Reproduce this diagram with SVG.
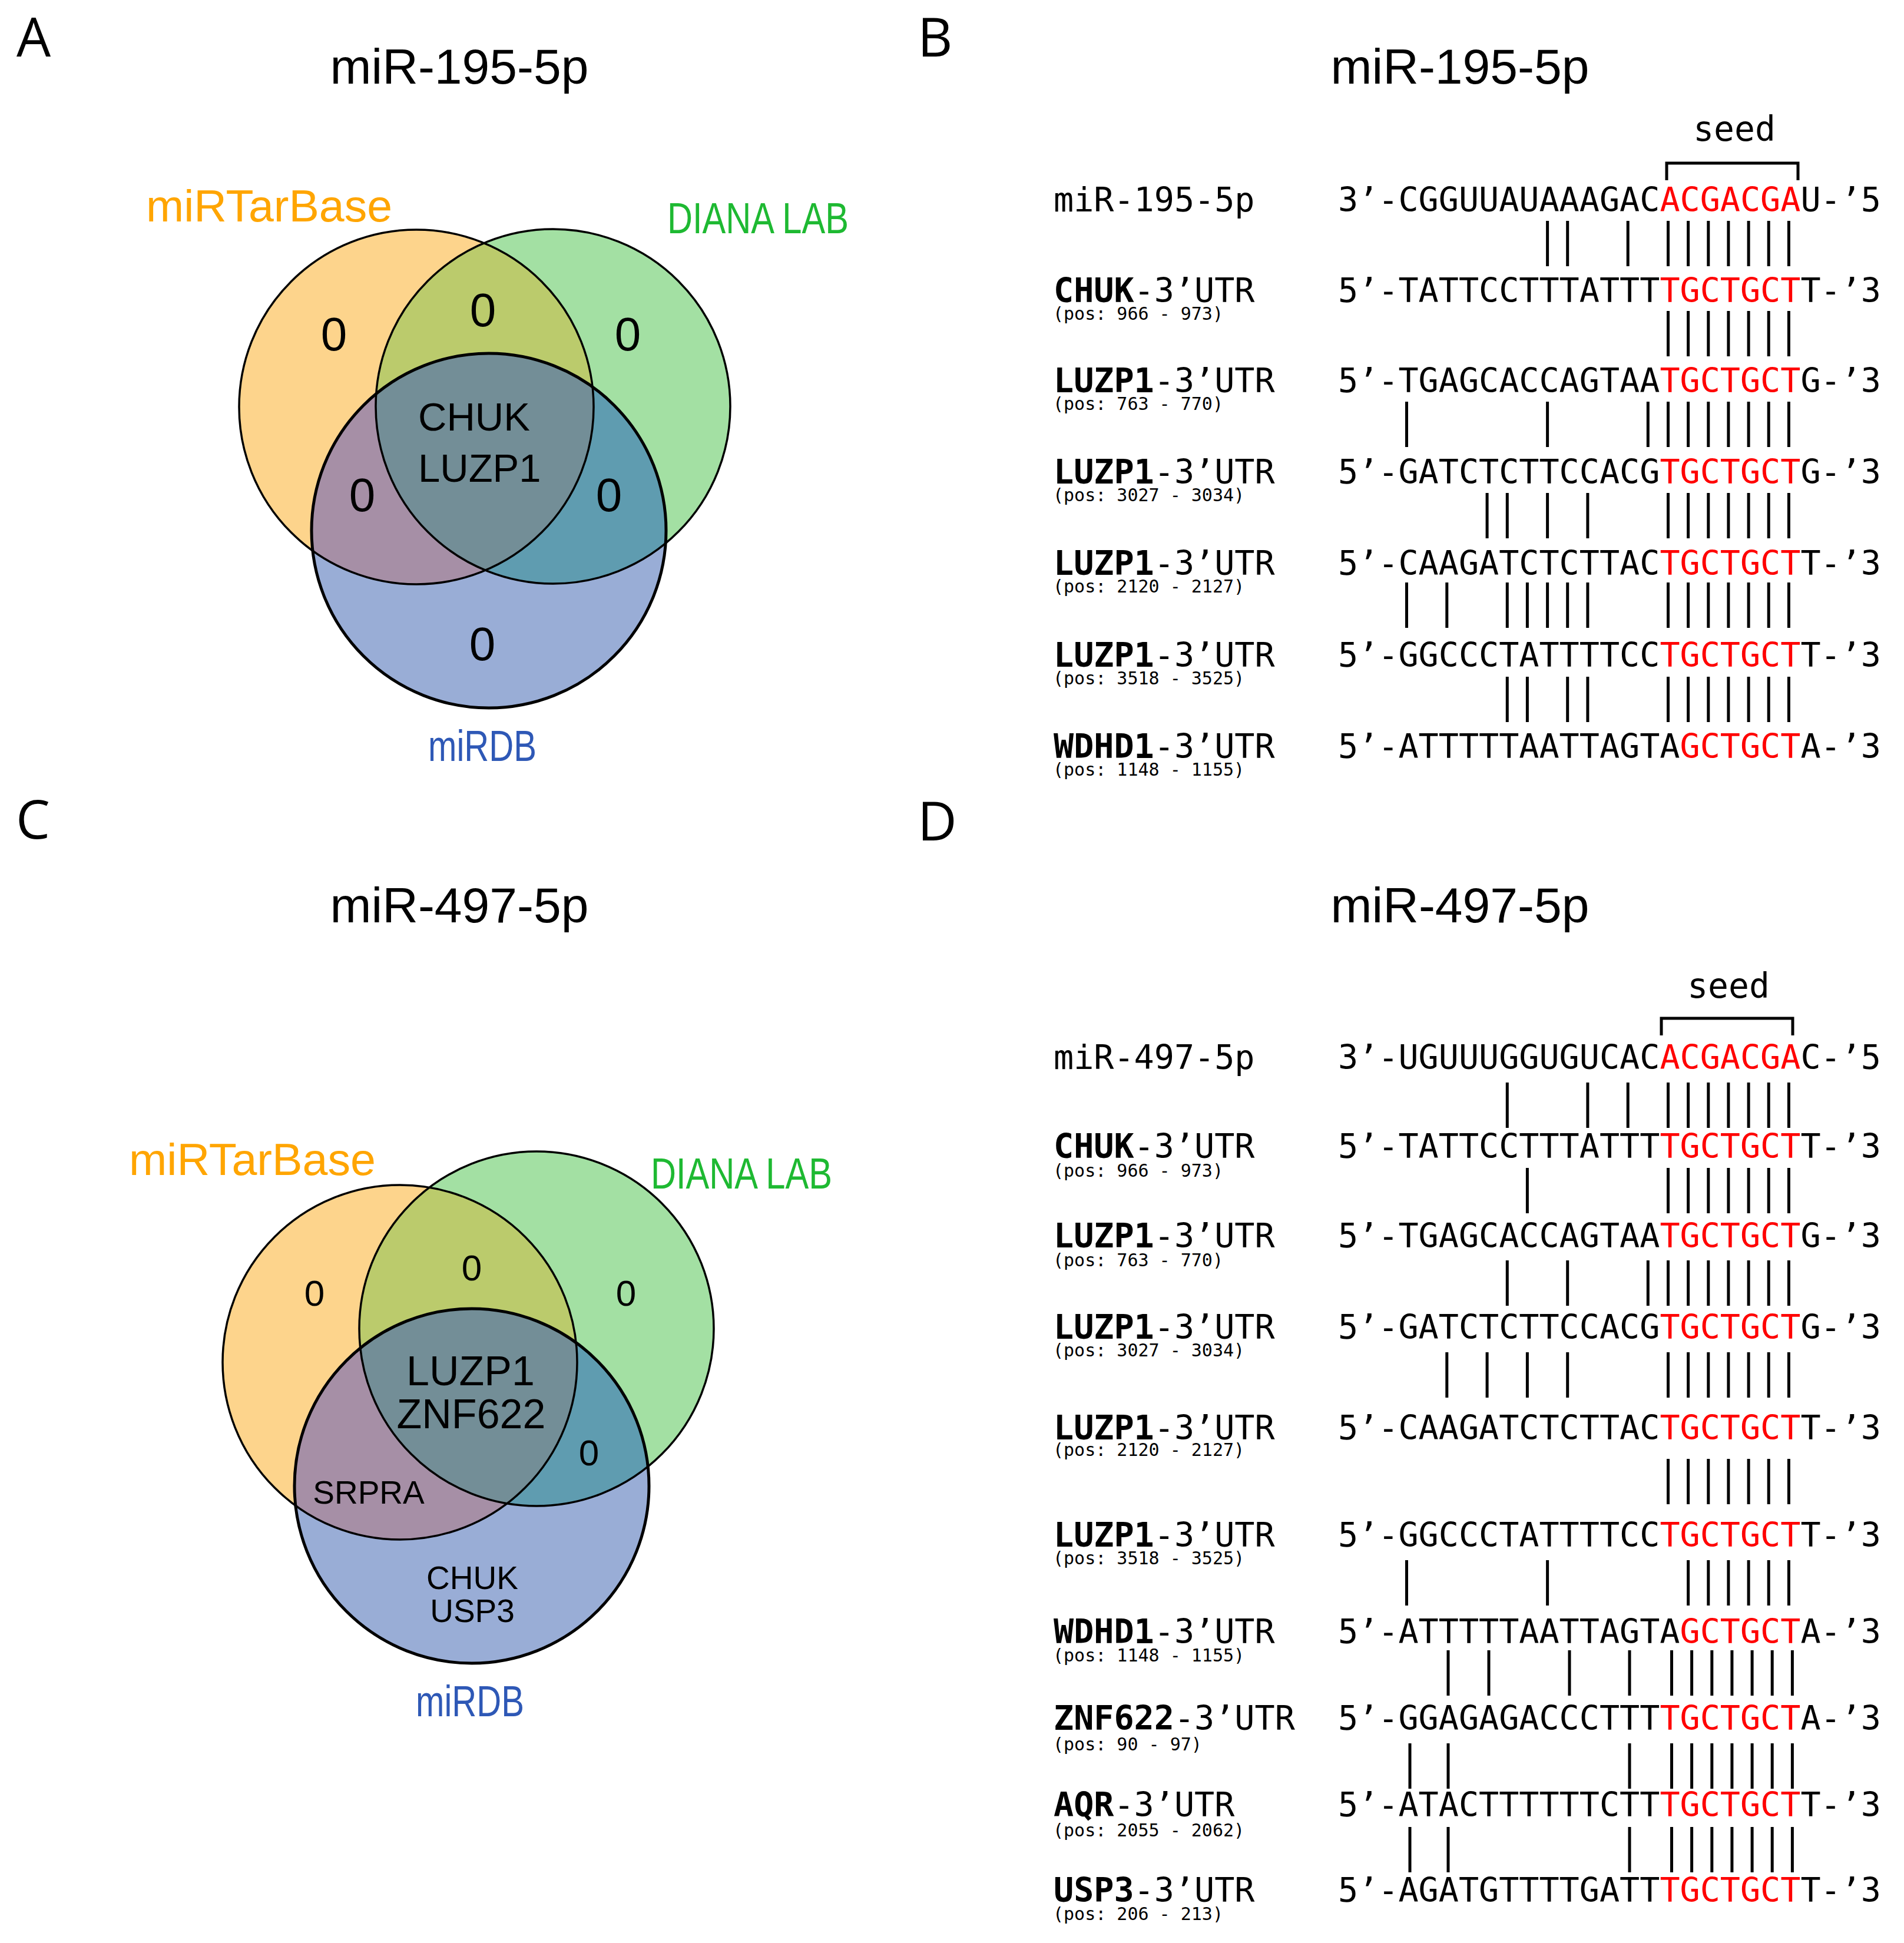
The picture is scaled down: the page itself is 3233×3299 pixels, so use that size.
<svg xmlns="http://www.w3.org/2000/svg" xmlns:xlink="http://www.w3.org/1999/xlink" width="3233" height="3299" viewBox="0 0 3233 3299">
<style>
.lbl{font-family:"Open Sans","DejaVu Sans",sans-serif;font-size:92px;fill:#000}
.ttl{font-family:"Liberation Sans",Arial,sans-serif;font-size:84px;text-anchor:middle;fill:#000}
.vn{font-family:"Liberation Sans",Arial,sans-serif;text-anchor:middle;fill:#000}
.n80{font-size:80px}
.n62{font-size:62px}
.g67{font-size:67px;text-anchor:start}
.g70{font-size:70px}
.g55{font-size:55px}
.src{font-family:"Liberation Sans",Arial,sans-serif;font-size:74px}
.tb{fill:#FFA500;font-size:76px}
.dl{fill:#1EB932}
.db{fill:#2E58B6}
.seq{font-family:"DejaVu Sans Mono",monospace;font-size:56.72px;fill:#000}
.pos{font-family:"DejaVu Sans Mono",monospace;font-size:30px;fill:#000}
.seedt{font-family:"DejaVu Sans Mono",monospace;font-size:58px;text-anchor:middle;fill:#000}
.r{fill:#FF0000}
.b{font-weight:bold}
.bars{stroke:#000;stroke-width:5;fill:none}
.ring{fill:none;stroke:#000;stroke-width:3.5}
.ringB{fill:none;stroke:#000;stroke-width:5}
</style>
<defs>
<clipPath id="cAO"><circle cx="707" cy="691" r="301"/></clipPath>
<clipPath id="cAG"><circle cx="939" cy="690" r="301"/></clipPath>
<clipPath id="cCO"><circle cx="679" cy="2313" r="301"/></clipPath>
<clipPath id="cCG"><circle cx="911" cy="2256" r="301"/></clipPath>
<path id="s7" d="M2832.5 0V77M2866.6 0V77M2900.8 0V77M2934.9 0V77M2969.1 0V77M3003.2 0V77M3037.4 0V77"/>
</defs>
<rect width="3233" height="3299" fill="#fff"/>

<g id="panel-labels">
<text class="lbl" x="28" y="96">A</text>
<text class="lbl" x="1558" y="96">B</text>
<text class="lbl" x="27" y="1424">C</text>
<text class="lbl" x="1558" y="1427">D</text>
</g>

<g id="titles">
<text class="ttl" x="780" y="142">miR-195-5p</text>
<text class="ttl" x="2479" y="142">miR-195-5p</text>
<text class="ttl" x="780" y="1566">miR-497-5p</text>
<text class="ttl" x="2479" y="1566">miR-497-5p</text>
</g>

<g id="venn-A">
<circle cx="707" cy="691" r="301" fill="#FDD48C"/>
<circle cx="939" cy="690" r="301" fill="#A3E0A3"/>
<circle cx="830" cy="901" r="301" fill="#99ADD6"/>
<circle cx="939" cy="690" r="301" fill="#BBCB6C" clip-path="url(#cAO)"/>
<circle cx="830" cy="901" r="301" fill="#A68FA6" clip-path="url(#cAO)"/>
<circle cx="830" cy="901" r="301" fill="#5F9CB0" clip-path="url(#cAG)"/>
<g clip-path="url(#cAO)"><circle cx="830" cy="901" r="301" fill="#738E97" clip-path="url(#cAG)"/></g>
<circle class="ring" cx="707" cy="691" r="301"/>
<circle class="ring" cx="939" cy="690" r="301"/>
<circle class="ringB" cx="830" cy="901" r="301"/>
<text class="src tb" x="248" y="376" textLength="418" lengthAdjust="spacingAndGlyphs">miRTarBase</text>
<text class="src dl" x="1133" y="396" font-size="72" textLength="308" lengthAdjust="spacingAndGlyphs">DIANA LAB</text>
<text class="src db" x="727" y="1292" font-size="72" textLength="184" lengthAdjust="spacingAndGlyphs">miRDB</text>
<text class="vn n80" x="567" y="595">0</text>
<text class="vn n80" x="820" y="554">0</text>
<text class="vn n80" x="1066" y="595">0</text>
<text class="vn n80" x="615" y="868">0</text>
<text class="vn n80" x="1034" y="868">0</text>
<text class="vn n80" x="819" y="1121">0</text>
<text class="vn g67" x="710" y="731">CHUK</text>
<text class="vn g67" x="710" y="818">LUZP1</text>
</g>

<g id="venn-C">
<circle cx="679" cy="2313" r="301" fill="#FDD48C"/>
<circle cx="911" cy="2256" r="301" fill="#A3E0A3"/>
<circle cx="801" cy="2523" r="301" fill="#99ADD6"/>
<circle cx="911" cy="2256" r="301" fill="#BBCB6C" clip-path="url(#cCO)"/>
<circle cx="801" cy="2523" r="301" fill="#A68FA6" clip-path="url(#cCO)"/>
<circle cx="801" cy="2523" r="301" fill="#5F9CB0" clip-path="url(#cCG)"/>
<g clip-path="url(#cCO)"><circle cx="801" cy="2523" r="301" fill="#738E97" clip-path="url(#cCG)"/></g>
<circle class="ring" cx="679" cy="2313" r="301"/>
<circle class="ring" cx="911" cy="2256" r="301"/>
<circle class="ringB" cx="801" cy="2523" r="301"/>
<text class="src tb" x="219" y="1995" textLength="419" lengthAdjust="spacingAndGlyphs">miRTarBase</text>
<text class="src dl" x="1105" y="2018" font-size="72" textLength="308" lengthAdjust="spacingAndGlyphs">DIANA LAB</text>
<text class="src db" x="706" y="2914" font-size="72" textLength="184" lengthAdjust="spacingAndGlyphs">miRDB</text>
<text class="vn n62" x="534" y="2217">0</text>
<text class="vn n62" x="801" y="2174">0</text>
<text class="vn n62" x="1063" y="2217">0</text>
<text class="vn n62" x="1000" y="2488">0</text>
<text class="vn g70" x="799" y="2352">LUZP1</text>
<text class="vn g70" x="800" y="2425">ZNF622</text>
<text class="vn g55" x="626" y="2553">SRPRA</text>
<text class="vn g55" x="802" y="2698">CHUK</text>
<text class="vn g55" x="802" y="2754">USP3</text>
</g>

<g id="alignment-B">
<text class="seedt" x="2945" y="239">seed</text>
<path class="bars" d="M2830 306V277H3053V306"/>
<g id="B-mir"><text class="seq" x="1789" y="359">miR-195-5p</text><text class="seq" x="2272" y="359">3’-CGGUUAUAAAGAC<tspan class="r">ACGACGA</tspan>U-’5</text></g>
<g id="B-chuk"><text class="seq" x="1789" y="513"><tspan class="b">CHUK</tspan>-3’UTR</text><text class="pos" x="1788" y="543">(pos: 966 - 973)</text><text class="seq" x="2272" y="513">5’-TATTCCTTTATTT<tspan class="r">TGCTGCT</tspan>T-’3</text></g>
<g id="B-luzp1-763"><text class="seq" x="1789" y="666"><tspan class="b">LUZP1</tspan>-3’UTR</text><text class="pos" x="1788" y="696">(pos: 763 - 770)</text><text class="seq" x="2272" y="666">5’-TGAGCACCAGTAA<tspan class="r">TGCTGCT</tspan>G-’3</text></g>
<g id="B-luzp1-3027"><text class="seq" x="1789" y="821"><tspan class="b">LUZP1</tspan>-3’UTR</text><text class="pos" x="1788" y="851">(pos: 3027 - 3034)</text><text class="seq" x="2272" y="821">5’-GATCTCTTCCACG<tspan class="r">TGCTGCT</tspan>G-’3</text></g>
<g id="B-luzp1-2120"><text class="seq" x="1789" y="976"><tspan class="b">LUZP1</tspan>-3’UTR</text><text class="pos" x="1788" y="1006">(pos: 2120 - 2127)</text><text class="seq" x="2272" y="976">5’-CAAGATCTCTTAC<tspan class="r">TGCTGCT</tspan>T-’3</text></g>
<g id="B-luzp1-3518"><text class="seq" x="1789" y="1132"><tspan class="b">LUZP1</tspan>-3’UTR</text><text class="pos" x="1788" y="1162">(pos: 3518 - 3525)</text><text class="seq" x="2272" y="1132">5’-GGCCCTATTTTCC<tspan class="r">TGCTGCT</tspan>T-’3</text></g>
<g id="B-wdhd1"><text class="seq" x="1789" y="1287"><tspan class="b">WDHD1</tspan>-3’UTR</text><text class="pos" x="1788" y="1317">(pos: 1148 - 1155)</text><text class="seq" x="2272" y="1287">5’-ATTTTTAATTAGTA<tspan class="r">GCTGCT</tspan>A-’3</text></g>
</g>

<g id="alignment-D">
<text class="seedt" x="2935" y="1694">seed</text>
<path class="bars" d="M2821 1758V1729H3044V1758"/>
<g id="D-mir"><text class="seq" x="1789" y="1815">miR-497-5p</text><text class="seq" x="2272" y="1815">3’-UGUUUGGUGUCAC<tspan class="r">ACGACGA</tspan>C-’5</text></g>
<g id="D-chuk"><text class="seq" x="1789" y="1966"><tspan class="b">CHUK</tspan>-3’UTR</text><text class="pos" x="1788" y="1998">(pos: 966 - 973)</text><text class="seq" x="2272" y="1966">5’-TATTCCTTTATTT<tspan class="r">TGCTGCT</tspan>T-’3</text></g>
<g id="D-luzp1-763"><text class="seq" x="1789" y="2118"><tspan class="b">LUZP1</tspan>-3’UTR</text><text class="pos" x="1788" y="2150">(pos: 763 - 770)</text><text class="seq" x="2272" y="2118">5’-TGAGCACCAGTAA<tspan class="r">TGCTGCT</tspan>G-’3</text></g>
<g id="D-luzp1-3027"><text class="seq" x="1789" y="2273"><tspan class="b">LUZP1</tspan>-3’UTR</text><text class="pos" x="1788" y="2303">(pos: 3027 - 3034)</text><text class="seq" x="2272" y="2273">5’-GATCTCTTCCACG<tspan class="r">TGCTGCT</tspan>G-’3</text></g>
<g id="D-luzp1-2120"><text class="seq" x="1789" y="2444"><tspan class="b">LUZP1</tspan>-3’UTR</text><text class="pos" x="1788" y="2472">(pos: 2120 - 2127)</text><text class="seq" x="2272" y="2444">5’-CAAGATCTCTTAC<tspan class="r">TGCTGCT</tspan>T-’3</text></g>
<g id="D-luzp1-3518"><text class="seq" x="1789" y="2626"><tspan class="b">LUZP1</tspan>-3’UTR</text><text class="pos" x="1788" y="2656">(pos: 3518 - 3525)</text><text class="seq" x="2272" y="2626">5’-GGCCCTATTTTCC<tspan class="r">TGCTGCT</tspan>T-’3</text></g>
<g id="D-wdhd1"><text class="seq" x="1789" y="2790"><tspan class="b">WDHD1</tspan>-3’UTR</text><text class="pos" x="1788" y="2821">(pos: 1148 - 1155)</text><text class="seq" x="2272" y="2790">5’-ATTTTTAATTAGTA<tspan class="r">GCTGCT</tspan>A-’3</text></g>
<g id="D-znf622"><text class="seq" x="1789" y="2937"><tspan class="b">ZNF622</tspan>-3’UTR</text><text class="pos" x="1788" y="2972">(pos: 90 - 97)</text><text class="seq" x="2272" y="2937">5’-GGAGAGACCCTTT<tspan class="r">TGCTGCT</tspan>A-’3</text></g>
<g id="D-aqr"><text class="seq" x="1789" y="3084"><tspan class="b">AQR</tspan>-3’UTR</text><text class="pos" x="1788" y="3118">(pos: 2055 - 2062)</text><text class="seq" x="2272" y="3084">5’-ATACTTTTTTCTT<tspan class="r">TGCTGCT</tspan>T-’3</text></g>
<g id="D-usp3"><text class="seq" x="1789" y="3229"><tspan class="b">USP3</tspan>-3’UTR</text><text class="pos" x="1788" y="3260">(pos: 206 - 213)</text><text class="seq" x="2272" y="3229">5’-AGATGTTTTGATT<tspan class="r">TGCTGCT</tspan>T-’3</text></g>
</g>

<g id="connectors" class="bars">
<path d="M2627.6 375V452M2661.7 375V452M2764.2 375V452"/><use xlink:href="#s7" href="#s7" y="375"/>
<use xlink:href="#s7" href="#s7" y="528"/>
<path d="M2388.5 682V759M2627.6 682V759M2798.3 682V759"/><use xlink:href="#s7" href="#s7" y="682"/>
<path d="M2525.1 837V914M2559.3 837V914M2627.6 837V914M2695.9 837V914"/><use xlink:href="#s7" href="#s7" y="837"/>
<path d="M2388.5 989V1066M2456.8 989V1066M2559.3 989V1066M2593.4 989V1066M2627.6 989V1066M2661.7 989V1066M2695.9 989V1066"/><use xlink:href="#s7" href="#s7" y="989"/>
<path d="M2559.3 1149V1226M2593.4 1149V1226M2661.7 1149V1226M2695.9 1149V1226"/><use xlink:href="#s7" href="#s7" y="1149"/>

<path d="M2559.3 1838V1915M2695.9 1838V1915M2764.2 1838V1915"/><use xlink:href="#s7" href="#s7" y="1838"/>
<path d="M2593.4 1983V2060"/><use xlink:href="#s7" href="#s7" y="1983"/>
<path d="M2559.3 2140V2217M2661.7 2140V2217M2798.3 2140V2217"/><use xlink:href="#s7" href="#s7" y="2140"/>
<path d="M2456.8 2296V2373M2525.1 2296V2373M2593.4 2296V2373M2661.7 2296V2373"/><use xlink:href="#s7" href="#s7" y="2296"/>
<use xlink:href="#s7" href="#s7" y="2477"/>
<path d="M2388.5 2649V2726M2627.6 2649V2726M2866.6 2649V2726M2900.8 2649V2726M2934.9 2649V2726M2969.1 2649V2726M3003.2 2649V2726M3037.4 2649V2726"/>
<path d="M2459 2802V2879M2528 2802V2879M2665 2802V2879M2767 2802V2879"/><use xlink:href="#s7" href="#s7" x="6" y="2802"/>
<path d="M2394 2960V3037M2459 2960V3037M2767 2960V3037"/><use xlink:href="#s7" href="#s7" x="6" y="2960"/>
<path d="M2394 3102V3179M2459 3102V3179M2767 3102V3179"/><use xlink:href="#s7" href="#s7" x="6" y="3102"/>
</g>
</svg>
